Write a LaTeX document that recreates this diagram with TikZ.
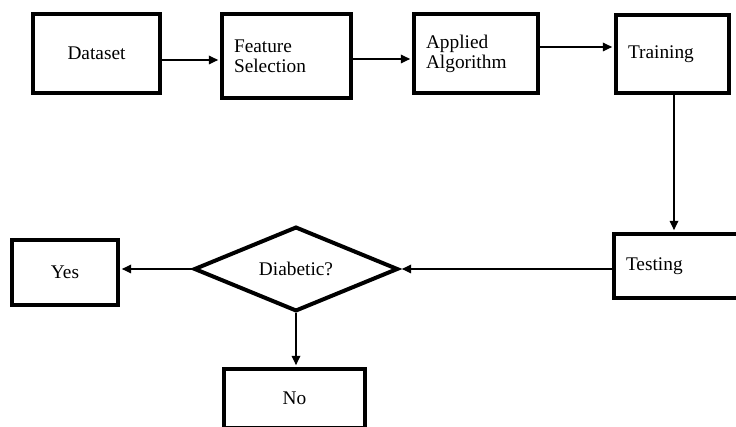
\documentclass[tikz,border=0pt]{standalone}
\usepackage{fontspec}
\setmainfont{Liberation Serif}
\usetikzlibrary{shapes.geometric,arrows.meta}
\tikzset{blk/.style={draw, line width=3pt, inner xsep=9pt, font=\fontsize{14.5}{15}\selectfont},
lblk/.style={blk, align=left, text width=#1},
arr/.style={-{Triangle[length=7pt,width=6.5pt]}, line width=0.9pt, shorten >=1.4pt}}

\begin{document}
\begin{tikzpicture}[x=0.75pt,y=-0.75pt]
\useasboundingbox (0,0) rectangle (736,427);
\node[blk, minimum width=95.25pt, minimum height=59.25pt] (dataset) at (96.5,53.5) {Dataset};
\node[lblk=78.75pt, minimum height=63pt] (feature) at (286.5,56) {Feature\\Selection};
\node[lblk=75pt, minimum height=59.25pt] (applied) at (476,53.5) {Applied\\Algorithm};
\node[lblk=66.75pt, minimum height=58.5pt] (training) at (672.5,54) {Training};
\node[lblk=90pt, minimum height=48pt] (testing) at (686,266) {Testing};
\node[draw, diamond, aspect=2.4, inner sep=1pt, line width=3pt, minimum width=153pt, minimum height=63.5pt, font=\fontsize{14.5}{15}\selectfont] (diabetic) at (296,269) {Diabetic?};
\node[blk, minimum width=79.5pt, minimum height=48.75pt] (yes) at (65,272.5) {Yes};
\node[blk, minimum width=105.75pt, minimum height=44.25pt] (no) at (294.5,398.5) {No};
\draw[arr] (dataset.east |- 0,60) -- (feature.west |- 0,60);
\draw[arr] (feature.east |- 0,59) -- (applied.west |- 0,59);
\draw[arr] (applied.east |- 0,47) -- (training.west |- 0,47);
\draw[arr] (training.south -| 674,0) -- (testing.north -| 674,0);
\draw[arr] (testing.west |- diabetic.east) -- (diabetic.east);
\draw[arr] (diabetic.west) -- (yes.east |- diabetic.west);
\draw[arr] (diabetic.south) -- (no.north -| diabetic.south);
\end{tikzpicture}
\end{document}
